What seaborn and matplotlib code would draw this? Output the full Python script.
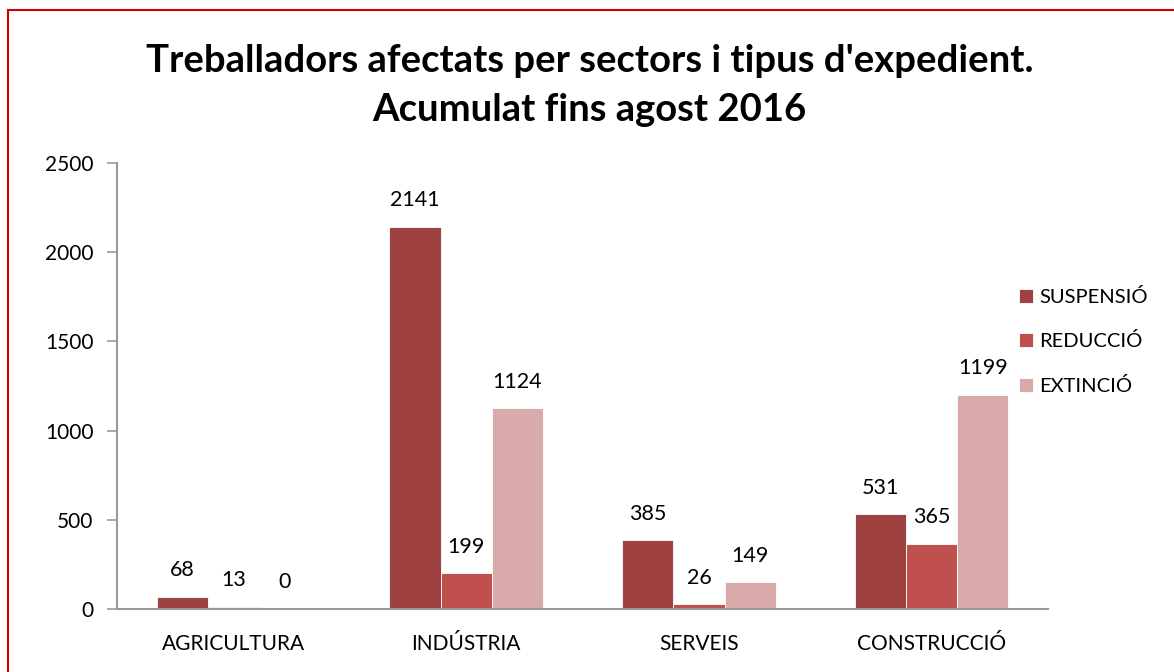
import pandas as pd
import matplotlib
matplotlib.use('Agg')
import matplotlib.pyplot as plt
import seaborn as sns
from matplotlib.patches import Rectangle

sectors = ['AGRICULTURA', 'INDÚSTRIA', 'SERVEIS', 'CONSTRUCCIÓ']
types = ['SUSPENSIÓ', 'REDUCCIÓ', 'EXTINCIÓ']
suspensio = [68, 2141, 385, 531]
reduccio = [13, 199, 26, 365]
extincio = [0, 1124, 149, 1199]
colors = ['#9E4140', '#C0504D', '#D9AAAA']

df = pd.DataFrame({
    'sector': sectors * 3,
    'tipus': [t for t in types for _ in sectors],
    'valor': suspensio + reduccio + extincio,
})

sns.set_theme(style='white', rc={'text.color': 'black', 'xtick.color': 'black',
                                 'ytick.color': 'black'})
plt.rcParams['font.family'] = ['Lato', 'DejaVu Sans']

fig = plt.figure(figsize=(11.74, 6.72), dpi=100)
ax = fig.add_axes([0.0997, 0.0938, 0.793, 0.6637])

sns.barplot(data=df, x='sector', y='valor', hue='tipus', order=sectors,
            hue_order=types, palette=colors, width=0.66, saturation=1,
            edgecolor='white', linewidth=0.6, ax=ax)

for cont in ax.containers:
    ax.bar_label(cont, fmt='%d', padding=12, fontsize=15.5, color='black')

ax.set_ylim(0, 2500)
ax.set_yticks(range(0, 2501, 500))
ax.set_xlim(-0.5, 3.5)
ax.set_xlabel('')
ax.set_ylabel('')
ax.tick_params(axis='y', left=True, length=7, width=1.2, color='#999999',
               labelcolor='black', labelsize=15, pad=10)
ax.tick_params(axis='x', bottom=False, labelcolor='black', labelsize=15, pad=12)
for s in ['top', 'right']:
    ax.spines[s].set_visible(False)
for s in ['left', 'bottom']:
    ax.spines[s].set_color('#999999')
    ax.spines[s].set_linewidth(1.5)

leg = ax.legend(loc='upper left', bbox_to_anchor=(0.96, 0.737), frameon=False,
                fontsize=14.5, handlelength=0.7, handleheight=0.7,
                handletextpad=0.3, labelspacing=1.3, borderaxespad=0)

fig.text(0.502, 0.873, "Treballadors afectats per sectors i tipus d'expedient.\nAcumulat fins agost 2016",
         ha='center', va='center', fontsize=27.5, fontweight='bold',
         linespacing=1.55, color='black')

fig.patches.append(Rectangle((0.007, -0.1), 1.1, 1.085, transform=fig.transFigure,
                             fill=False, edgecolor='#CC0000', linewidth=1.5))

fig.savefig('out.png', dpi=100)
